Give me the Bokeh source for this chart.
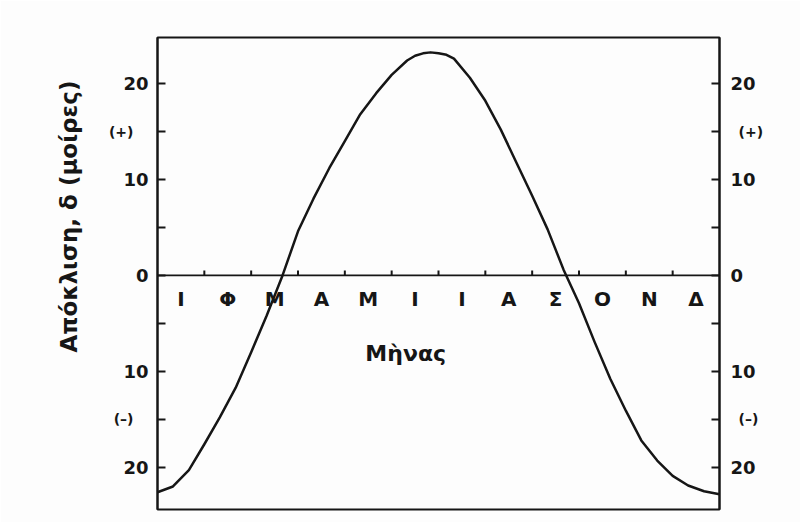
from bokeh.plotting import figure
from bokeh.models import Range1d, LinearAxis, FixedTicker, Label, ColumnDataSource, Title
from bokeh.core.properties import value
from bokeh.embed import file_html
from bokeh.resources import INLINE

# Month initials (Greek) and their positions on the month axis
month_letters = ["Ι", "Φ", "Μ", "Α", "Μ", "Ι", "Ι", "Α", "Σ", "Ο", "Ν", "Δ"]
month_centers = [0.5, 1.5, 2.5, 3.5, 4.5, 5.5, 6.5, 7.5, 8.5, 9.5, 10.5, 11.5]
month_bounds = [1, 2, 3, 4, 5, 6, 7, 8, 9, 10, 11]

# Solar declination through the year (time in months from 1 January, degrees)
t_months = [0.0, 0.33, 0.67, 1.0, 1.33, 1.67, 2.0, 2.33, 2.67, 3.0, 3.33, 3.67,
            4.0, 4.33, 4.67, 5.0, 5.33, 5.5, 5.67, 5.83, 6.0, 6.17, 6.33, 6.67,
            7.0, 7.33, 7.67, 8.0, 8.33, 8.67, 9.0, 9.33, 9.67, 10.0, 10.33,
            10.67, 11.0, 11.33, 11.67, 12.0]
declination = [-22.6, -22.0, -20.3, -17.6, -14.8, -11.7, -8.0, -4.2, 0.0, 4.6,
               8.0, 11.2, 14.0, 16.8, 19.0, 20.9, 22.4, 22.9, 23.15, 23.25,
               23.15, 23.0, 22.6, 20.6, 18.2, 15.2, 11.7, 8.3, 4.8, 0.6, -2.9,
               -6.9, -10.8, -14.1, -17.2, -19.3, -20.9, -21.9, -22.5, -22.8]

# Declination axis ticks and their printed labels (sign shown separately)
y_ticks = [-20, -15, -10, -5, 0, 5, 10, 15, 20]
y_tick_labels = {20: "20", 15: "", 10: "10", 5: "", 0: "0",
                 -5: "", -10: "10", -15: "", -20: "20"}
sign_ticks = [15, -15]
sign_labels = {15: "(+)", -15: "(–)"}

INK = "#161616"
PAPER = "#fdfdfd"
FONT = "DejaVu Sans"

p = figure(width=800, height=522,
           x_range=Range1d(0, 12), y_range=Range1d(-24.4, 24.8),
           x_axis_location=None, y_axis_location="left",
           output_backend="svg", toolbar_location=None,
           min_border_left=157, min_border_right=81,
           min_border_top=37, min_border_bottom=13,
           background_fill_color=PAPER, border_fill_color=PAPER)
p.grid.visible = False
p.outline_line_color = INK
p.outline_line_width = 2


def style_axis(ax):
    ax.ticker = FixedTicker(ticks=y_ticks)
    ax.major_label_overrides = y_tick_labels
    ax.major_tick_in = 8
    ax.major_tick_out = 0
    ax.minor_tick_in = 0
    ax.minor_tick_out = 0
    ax.major_tick_line_color = INK
    ax.major_tick_line_width = 2
    ax.axis_line_color = INK
    ax.axis_line_width = 2
    ax.major_label_text_font = FONT
    ax.major_label_text_font_style = "bold"
    ax.major_label_text_font_size = "18px"
    ax.major_label_text_color = INK
    ax.major_label_standoff = 9


def sign_axis(standoff):
    ax = LinearAxis(ticker=FixedTicker(ticks=sign_ticks),
                    major_label_overrides=sign_labels)
    ax.axis_line_color = None
    ax.major_tick_line_color = None
    ax.major_tick_in = 0
    ax.major_tick_out = 0
    ax.minor_tick_line_color = None
    ax.major_label_text_font = FONT
    ax.major_label_text_font_style = "bold"
    ax.major_label_text_font_size = "14px"
    ax.major_label_text_color = INK
    ax.major_label_standoff = standoff
    return ax


style_axis(p.yaxis[0])
right_axis = LinearAxis()
style_axis(right_axis)
right_axis.major_label_standoff = 11
p.add_layout(right_axis, "right")

p.add_layout(sign_axis(-13), "left")
p.add_layout(sign_axis(-20), "right")

# Declination axis title, hung from near the top of the frame
y_title = Title(text="Απόκλιση, δ (μοίρες)", align="right", offset=43,
                text_font=FONT, text_font_style="bold",
                text_font_size="23px", text_color=INK)
if "standoff" in Title.properties():
    y_title.standoff = 48
p.add_layout(y_title, "left")

# Zero line with month division ticks
p.line(x=[0, 12], y=[0, 0], line_color=INK, line_width=1.8)
p.segment(x0=month_bounds, y0=[0] * len(month_bounds),
          x1=month_bounds, y1=[0.5] * len(month_bounds),
          line_color=INK, line_width=2)

# Month initials just under the zero line
months_src = ColumnDataSource(dict(x=month_centers, y=[0] * 12, t=month_letters))
p.text(x="x", y="y", text="t", source=months_src, y_offset=24,
       text_align="center", text_baseline="middle",
       text_font=value(FONT), text_font_style="bold",
       text_font_size="20px", text_color=INK)

# Declination curve
p.line(t_months, declination, line_color=INK, line_width=2.5,
       line_join="round")

# Month axis title
p.add_layout(Label(x=5.3, y=-8.1, text="Μὴνας", text_align="center",
                   text_baseline="middle", text_font=FONT,
                   text_font_style="bold", text_font_size="22px",
                   text_color=INK))

open("out.html", "w").write(file_html(p, INLINE))
